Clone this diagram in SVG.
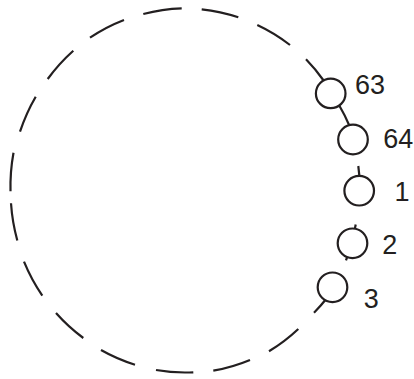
<svg xmlns="http://www.w3.org/2000/svg" width="414" height="379" viewBox="0 0 414 379">
<style>
.d{fill:none;stroke:#231f20;stroke-width:2.2;stroke-linecap:butt}
.n{fill:#fff;stroke:#231f20;stroke-width:2.2}
.t{font-family:"Liberation Sans",Arial,sans-serif;font-size:27px;fill:#231f20;text-anchor:middle}
</style>
<rect width="414" height="379" fill="#fff"/>
<g id="connectors">
<path class="d" d="M143.3 14 A175 182 0 0 1 181.7 8.3"/>
<path class="d" d="M201.7 9.3 A175 182 0 0 1 238.3 17.3"/>
<path class="d" d="M257.3 25 A175 182 0 0 1 290 45"/>
<path class="d" d="M306 59.3 A175 182 0 0 1 324 81"/>
<path class="d" d="M339 105 A175 182 0 0 1 350 127"/>
<path class="d" d="M358.3 166 A175 182 0 0 1 359.8 184"/>
<path class="d" d="M355.7 224.5 A175 182 0 0 1 346 260.3"/>
<path class="d" d="M327 298 A175 182 0 0 1 314 312.7"/>
<path class="d" d="M298.3 329 A175 182 0 0 1 269 351.3"/>
<path class="d" d="M250 360 A175 182 0 0 1 213.3 370.7"/>
<path class="d" d="M193.3 372.3 A175 182 0 0 1 156 370"/>
<path class="d" d="M135 364.7 A175 182 0 0 1 101 350"/>
<path class="d" d="M83.3 338 A175 182 0 0 1 56 313"/>
<path class="d" d="M42.3 295.7 A175 182 0 0 1 24 261.7"/>
<path class="d" d="M17.3 240.5 A175 182 0 0 1 11 203.3"/>
<path class="d" d="M10.5 191.3 A175 182 0 0 1 13.5 152.7"/>
<path class="d" d="M20 131.7 A175 182 0 0 1 35.7 96.7"/>
<path class="d" d="M47.7 79 A175 182 0 0 1 73.3 50.7"/>
<path class="d" d="M90 37.7 A175 182 0 0 1 124 20"/>
</g>
<g id="node-63"><circle class="n" cx="330.7" cy="93.4" r="14.8"/><text class="t" x="370" y="94.3">63</text></g>
<g id="node-64"><circle class="n" cx="353" cy="139.5" r="14.8"/><text class="t" x="398.3" y="148.3">64</text></g>
<g id="node-1"><circle class="n" cx="359.2" cy="190.7" r="14.8"/><text class="t" x="402" y="200.5">1</text></g>
<g id="node-2"><circle class="n" cx="352.5" cy="243.3" r="14.8"/><text class="t" x="389.8" y="254">2</text></g>
<g id="node-3"><circle class="n" cx="332.5" cy="287.3" r="14.8"/><text class="t" x="371.2" y="308">3</text></g>
</svg>
